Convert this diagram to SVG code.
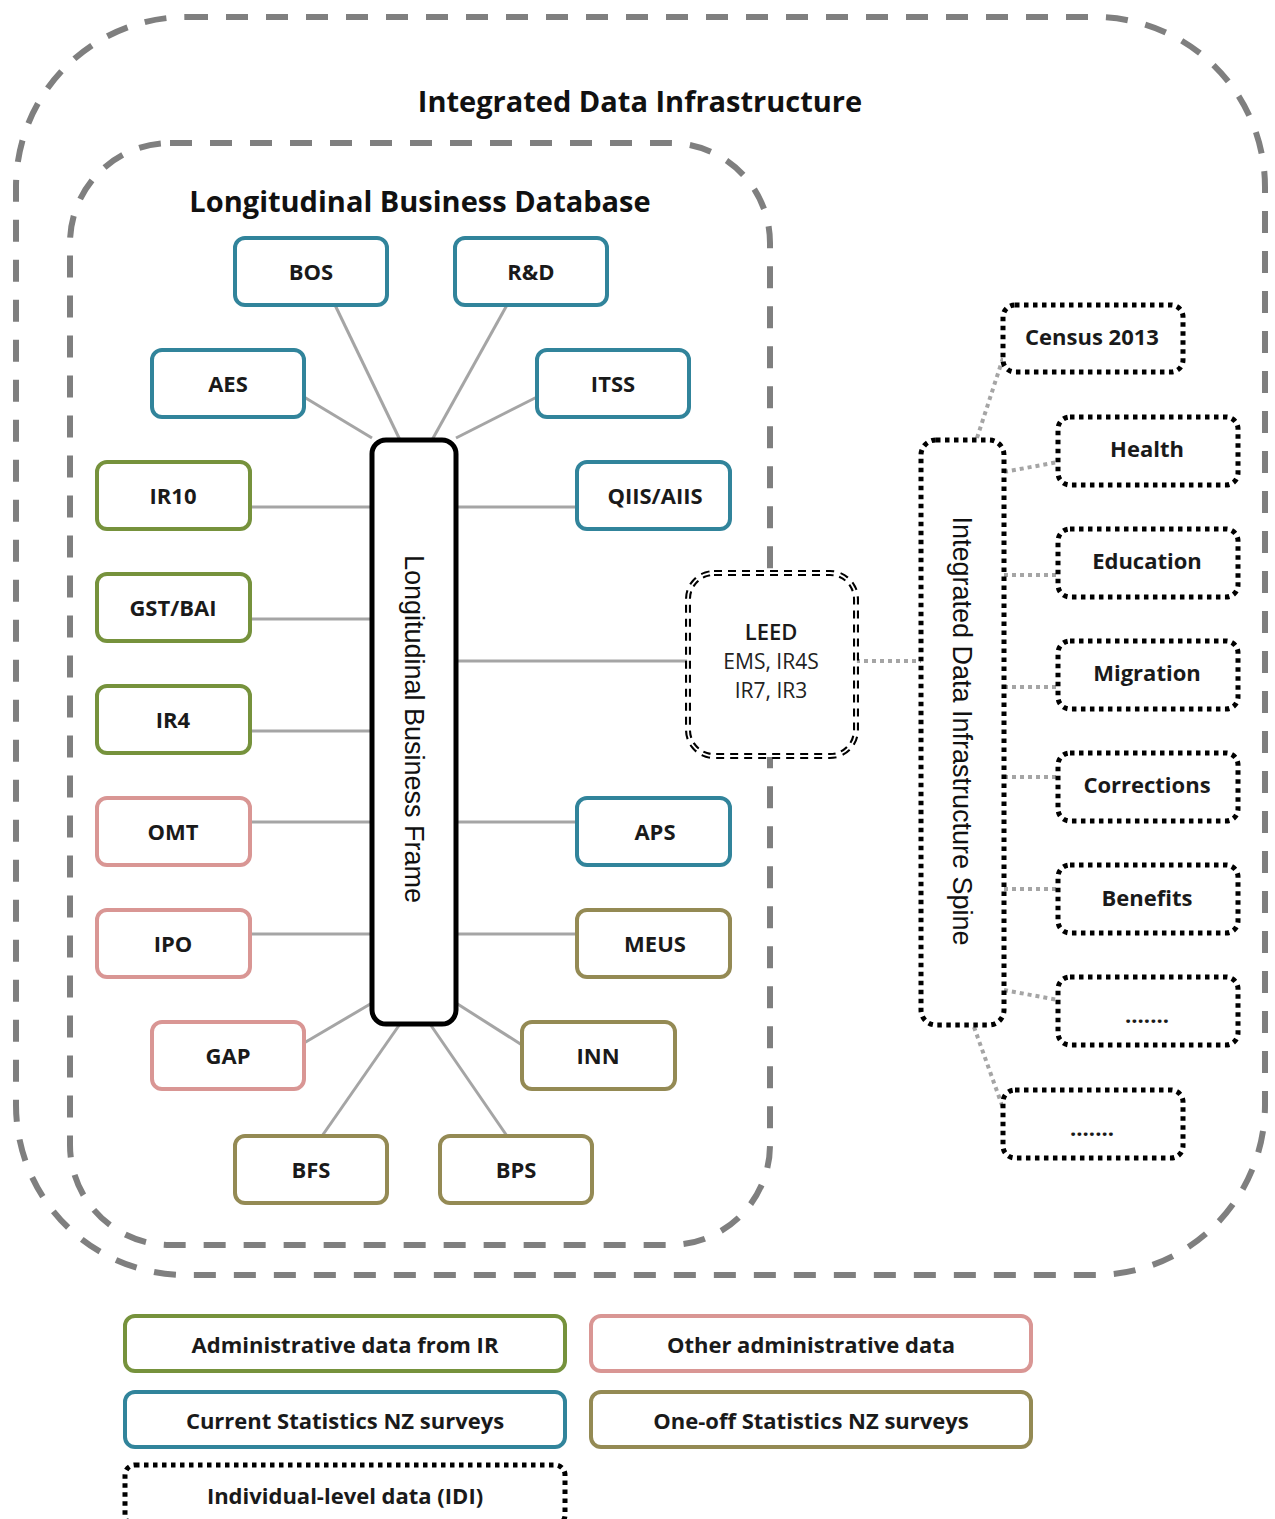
<svg xmlns="http://www.w3.org/2000/svg" width="1275" height="1519" viewBox="0 0 1275 1519">
<style>
.frame{fill:none;stroke:#7f7f7f;stroke-width:6;stroke-dasharray:22 18}
.title{font-family:"Open Sans","Liberation Sans",sans-serif;font-weight:bold;font-size:29px;fill:#111;text-anchor:middle}
.node rect{fill:#fff;stroke-width:4}
.blue rect{stroke:#31849b}
.green rect{stroke:#76923c}
.pink rect{stroke:#d99694}
.olive rect{stroke:#948a54}
.lbl{font-family:"Open Sans","Liberation Sans",sans-serif;font-weight:bold;font-size:22px;fill:#1a1a1a;text-anchor:middle;dominant-baseline:central}
.conn line{stroke:#a5a5a5;stroke-width:3}
.dconn line{stroke:#a5a5a5;stroke-width:4;stroke-dasharray:4 4}
.idi rect{fill:#fff;stroke:#000;stroke-width:5;stroke-dasharray:4.5 4.5}
.rot{font-family:"Liberation Sans",Arial,sans-serif;font-size:27px;fill:#111;text-anchor:middle;dominant-baseline:central}
.reg{font-family:"Open Sans","Liberation Sans",sans-serif;font-size:21px;fill:#222;text-anchor:middle;dominant-baseline:central}
</style>
<rect width="1275" height="1519" fill="#fff"/>
<g id="idi-frame">
<rect class="frame" x="16" y="17" width="1249" height="1258" rx="170"/>
<text class="title" x="640" y="112">Integrated Data Infrastructure</text>
</g>
<g id="lbd-frame">
<rect class="frame" x="70" y="143" width="700" height="1102" rx="100"/>
<text class="title" x="420" y="212">Longitudinal Business Database</text>
</g>
<g id="connectors">
<g class="conn">
<line x1="335" y1="305" x2="400" y2="440"/>
<line x1="507" y1="305" x2="432" y2="440"/>
<line x1="304" y1="397" x2="372" y2="438"/>
<line x1="537" y1="397" x2="456" y2="438"/>
<line x1="250" y1="507" x2="372" y2="507"/>
<line x1="456" y1="507" x2="577" y2="507"/>
<line x1="250" y1="619" x2="372" y2="619"/>
<line x1="250" y1="731" x2="372" y2="731"/>
<line x1="250" y1="822" x2="372" y2="822"/>
<line x1="456" y1="822" x2="577" y2="822"/>
<line x1="250" y1="934" x2="372" y2="934"/>
<line x1="456" y1="934" x2="577" y2="934"/>
<line x1="456" y1="661" x2="688" y2="661"/>
<line x1="304" y1="1043" x2="372" y2="1003"/>
<line x1="456" y1="1003" x2="522" y2="1045"/>
<line x1="400" y1="1024" x2="322" y2="1136"/>
<line x1="430" y1="1024" x2="507" y2="1136"/>
</g>
<g class="dconn">
<line x1="856" y1="661" x2="921" y2="661"/>
<line x1="977" y1="438" x2="1003" y2="358"/>
<line x1="1004" y1="472" x2="1058" y2="462"/>
<line x1="1004" y1="575" x2="1058" y2="575"/>
<line x1="1004" y1="687" x2="1058" y2="687"/>
<line x1="1004" y1="777" x2="1058" y2="777"/>
<line x1="1004" y1="889" x2="1058" y2="889"/>
<line x1="1004" y1="990" x2="1058" y2="1000"/>
<line x1="974" y1="1027" x2="1003" y2="1108"/>
</g>
</g>
<g id="lbf">
<rect x="372" y="440" width="84" height="584" rx="14" fill="#fff" stroke="#000" stroke-width="5"/>
<text class="rot" transform="translate(414,729) rotate(90)">Longitudinal Business Frame</text>
</g>
<g id="bos" class="node blue"><rect x="235" y="238" width="152" height="67" rx="10"/><text class="lbl" x="311" y="271">BOS</text></g>
<g id="rd" class="node blue"><rect x="455" y="238" width="152" height="67" rx="10"/><text class="lbl" x="531" y="271">R&amp;D</text></g>
<g id="aes" class="node blue"><rect x="152" y="350" width="152" height="67" rx="10"/><text class="lbl" x="228" y="383">AES</text></g>
<g id="itss" class="node blue"><rect x="537" y="350" width="152" height="67" rx="10"/><text class="lbl" x="613" y="383">ITSS</text></g>
<g id="ir10" class="node green"><rect x="97" y="462" width="153" height="67" rx="10"/><text class="lbl" x="173" y="495">IR10</text></g>
<g id="qiis" class="node blue"><rect x="577" y="462" width="153" height="67" rx="10"/><text class="lbl" x="655" y="495">QIIS/AIIS</text></g>
<g id="gst" class="node green"><rect x="97" y="574" width="153" height="67" rx="10"/><text class="lbl" x="173" y="607">GST/BAI</text></g>
<g id="ir4" class="node green"><rect x="97" y="686" width="153" height="67" rx="10"/><text class="lbl" x="173" y="719">IR4</text></g>
<g id="omt" class="node pink"><rect x="97" y="798" width="153" height="67" rx="10"/><text class="lbl" x="173" y="831">OMT</text></g>
<g id="aps" class="node blue"><rect x="577" y="798" width="153" height="67" rx="10"/><text class="lbl" x="655" y="831">APS</text></g>
<g id="ipo" class="node pink"><rect x="97" y="910" width="153" height="67" rx="10"/><text class="lbl" x="173" y="943">IPO</text></g>
<g id="meus" class="node olive"><rect x="577" y="910" width="153" height="67" rx="10"/><text class="lbl" x="655" y="943">MEUS</text></g>
<g id="gap" class="node pink"><rect x="152" y="1022" width="152" height="67" rx="10"/><text class="lbl" x="228" y="1055">GAP</text></g>
<g id="inn" class="node olive"><rect x="522" y="1022" width="153" height="67" rx="10"/><text class="lbl" x="598" y="1055">INN</text></g>
<g id="bfs" class="node olive"><rect x="235" y="1136" width="152" height="67" rx="10"/><text class="lbl" x="311" y="1169">BFS</text></g>
<g id="bps" class="node olive"><rect x="440" y="1136" width="152" height="67" rx="10"/><text class="lbl" x="516" y="1169">BPS</text></g>
<g id="leed">
<rect x="688" y="573" width="168" height="183" rx="26" fill="#fff" stroke="#000" stroke-width="6" stroke-dasharray="8 6"/>
<rect x="688" y="573" width="168" height="183" rx="26" fill="none" stroke="#fff" stroke-width="1.8"/>
<text class="lbl" x="771" y="631" style="font-weight:600">LEED</text>
<text class="reg" x="771" y="661">EMS, IR4S</text>
<text class="reg" x="771" y="690">IR7, IR3</text>
</g>
<g id="spine" class="idi">
<rect x="921" y="440" width="83" height="585" rx="15"/>
<text class="rot" transform="translate(962,731) rotate(90)">Integrated Data Infrastructure Spine</text>
</g>
<g id="census" class="idi"><rect x="1003" y="305" width="180" height="67" rx="12"/><text class="lbl" x="1092" y="336">Census 2013</text></g>
<g id="health" class="idi"><rect x="1058" y="417" width="180" height="68" rx="12"/><text class="lbl" x="1147" y="448">Health</text></g>
<g id="education" class="idi"><rect x="1058" y="529" width="180" height="68" rx="12"/><text class="lbl" x="1147" y="560">Education</text></g>
<g id="migration" class="idi"><rect x="1058" y="641" width="180" height="68" rx="12"/><text class="lbl" x="1147" y="672">Migration</text></g>
<g id="corrections" class="idi"><rect x="1058" y="753" width="180" height="68" rx="12"/><text class="lbl" x="1147" y="784">Corrections</text></g>
<g id="benefits" class="idi"><rect x="1058" y="865" width="180" height="68" rx="12"/><text class="lbl" x="1147" y="897">Benefits</text></g>
<g id="more1" class="idi"><rect x="1058" y="977" width="180" height="68" rx="12"/><text class="lbl" x="1147" y="1014">.......</text></g>
<g id="more2" class="idi"><rect x="1003" y="1090" width="180" height="68" rx="12"/><text class="lbl" x="1092" y="1127">.......</text></g>
<g id="legend">
<g id="leg-ir" class="node green"><rect x="125" y="1316" width="440" height="55" rx="10"/><text class="lbl" x="345" y="1344">Administrative data from IR</text></g>
<g id="leg-other" class="node pink"><rect x="591" y="1316" width="440" height="55" rx="10"/><text class="lbl" x="811" y="1344">Other administrative data</text></g>
<g id="leg-current" class="node blue"><rect x="125" y="1392" width="440" height="55" rx="10"/><text class="lbl" x="345" y="1420">Current Statistics NZ surveys</text></g>
<g id="leg-oneoff" class="node olive"><rect x="591" y="1392" width="440" height="55" rx="10"/><text class="lbl" x="811" y="1420">One-off Statistics NZ surveys</text></g>
<g id="leg-idi" class="idi"><rect x="125" y="1465" width="440" height="60" rx="10"/><text class="lbl" x="345" y="1495">Individual-level data (IDI)</text></g>
</g>
</svg>
